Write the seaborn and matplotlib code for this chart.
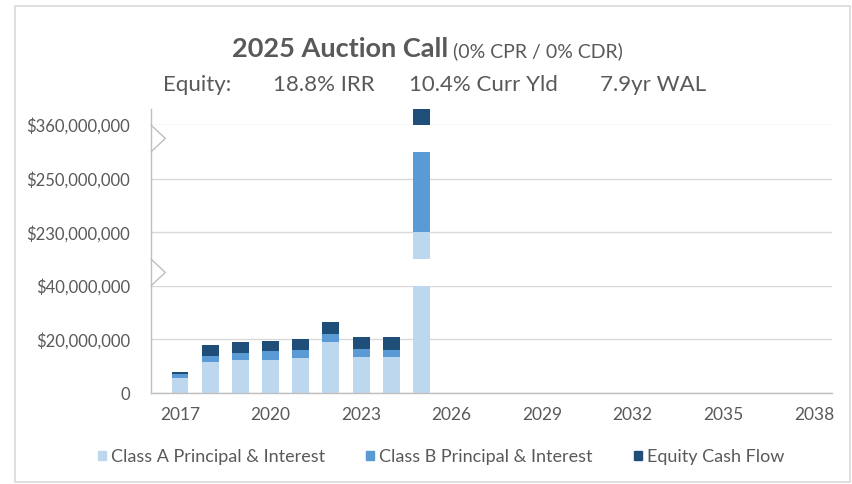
import numpy as np
import pandas as pd
import seaborn as sns
import matplotlib
matplotlib.use("Agg")
import matplotlib.pyplot as plt
import matplotlib.patches as mpatches
import matplotlib.transforms as mtransforms
from matplotlib.ticker import FixedLocator, FuncFormatter

# ---- data ----
years = [str(y) for y in range(2017, 2039)]
bar_years = [str(y) for y in range(2017, 2026)]
class_a = [5.6e6, 11.4e6, 12.4e6, 12.4e6, 13.0e6, 18.9e6, 13.4e6, 13.4e6, 230.0e6]
class_b = [1.4e6, 2.4e6, 2.5e6, 3.2e6, 3.0e6, 3.0e6, 3.1e6, 2.5e6, 30.4e6]
equity = [0.8e6, 4.2e6, 4.0e6, 3.9e6, 4.3e6, 4.7e6, 4.3e6, 5.0e6, 105.6e6]
ytick_values = [0, 20e6, 40e6, 230e6, 250e6, 360e6]
series_names = ["Class A Principal & Interest", "Class B Principal & Interest", "Equity Cash Flow"]
colors = ["#bdd7ee", "#5b9bd5", "#1f4e79"]

# broken y axis: value -> display units (two breaks)
val_knots = [-1e9, 0, 40e6, 220e6, 260e6, 360e6, 1e9]
disp_knots = [-50, 0, 2, 2.5, 4.5, 5, 37]
breaks = [(40e6, 220e6), (260e6, 360e6)]


def fwd(v):
    return np.interp(v, val_knots, disp_knots)


def inv(d):
    return np.interp(d, disp_knots, val_knots)


df = pd.DataFrame({"year": bar_years, "a": class_a, "b": class_b, "eq": equity})
df["ab"] = df["a"] + df["b"]
df["total"] = df["ab"] + df["eq"]

sns.set_theme(style="white")
plt.rcParams["font.family"] = ["Lato", "DejaVu Sans"]
txt = "#595959"

W, H = 853, 484
fig = plt.figure(figsize=(W / 100, H / 100), dpi=100)


def fx(px):
    return px / W


def fy(py):
    return 1 - py / H


ax = fig.add_axes([fx(151), fy(393), (832 - 151) / W, (393 - 109) / H])

# stacked bars drawn as overlapping cumulative totals
for col, c in [("total", colors[2]), ("ab", colors[1]), ("a", colors[0])]:
    sns.barplot(data=df, x="year", y=col, order=years, color=c, saturation=1,
                width=0.56, errorbar=None, linewidth=0, edgecolor="none", ax=ax)

ax.set_yscale("function", functions=(fwd, inv))
ax.set_ylim(0, 366e6)
ax.set_xlim(-0.96, 21.6)

# hide the broken parts
for lo, hi in breaks:
    ax.axhspan(lo + 0.4e6, hi - 0.4e6, color="white", lw=0, zorder=1.5)

ax.yaxis.set_major_locator(FixedLocator(ytick_values))
ax.yaxis.set_major_formatter(FuncFormatter(lambda v, p: "0" if v == 0 else f"${v:,.0f}"))
ax.set_xticks(range(0, len(years), 3))
ax.set_xticklabels(years[::3])
ax.set_xlabel("")
ax.set_ylabel("")

ax.yaxis.grid(True, color="#d9d9d9", lw=1)
ax.set_axisbelow(True)
for s in ["top", "right"]:
    ax.spines[s].set_visible(False)
for s in ["left", "bottom"]:
    ax.spines[s].set_color("#bfbfbf")
    ax.spines[s].set_linewidth(1)
    ax.spines[s].set_zorder(3)
ax.tick_params(axis="y", length=9, color="#d9d9d9", width=1, pad=6, labelsize=12, labelcolor=txt)
ax.tick_params(axis="x", length=0, pad=10, labelsize=12.5, labelcolor=txt)

# break markers on the y axis
trans = mtransforms.blended_transform_factory(ax.transAxes, ax.transData)
for lo, hi in breaks:
    mid = inv((fwd(lo) + fwd(hi)) / 2)
    ax.plot([0, 0.021, 0], [hi, mid, lo], transform=trans, color="#bfbfbf",
            lw=1, clip_on=False, zorder=3)

# titles
fig.text(fx(448), fy(57), "2025 Auction Call", ha="right", va="baseline",
         fontsize=19.5, fontweight="bold", color=txt)
fig.text(fx(453), fy(57), "(0% CPR / 0% CDR)", ha="left", va="baseline",
         fontsize=14, color=txt)
for x0, s in zip([163, 273, 409, 600], ["Equity:", "18.8% IRR", "10.4% Curr Yld", "7.9yr WAL"]):
    fig.text(fx(x0), fy(91), s, ha="left", va="baseline", fontsize=16, color=txt)

handles = [mpatches.Patch(color=c, label=n) for c, n in zip(colors, series_names)]
fig.legend(handles=handles, loc="center", bbox_to_anchor=(fx(441), fy(457)), ncol=3,
           frameon=False, handlelength=0.45, handleheight=0.45, handletextpad=0.25,
           columnspacing=2.3, fontsize=13, labelcolor=txt)

fig.add_artist(mpatches.Rectangle((fx(15), fy(482)), (850 - 15) / W, (482 - 6) / H,
                                  transform=fig.transFigure, fill=False,
                                  edgecolor="#d9d9d9", lw=1.2))

fig.savefig("out.png", dpi=100)
